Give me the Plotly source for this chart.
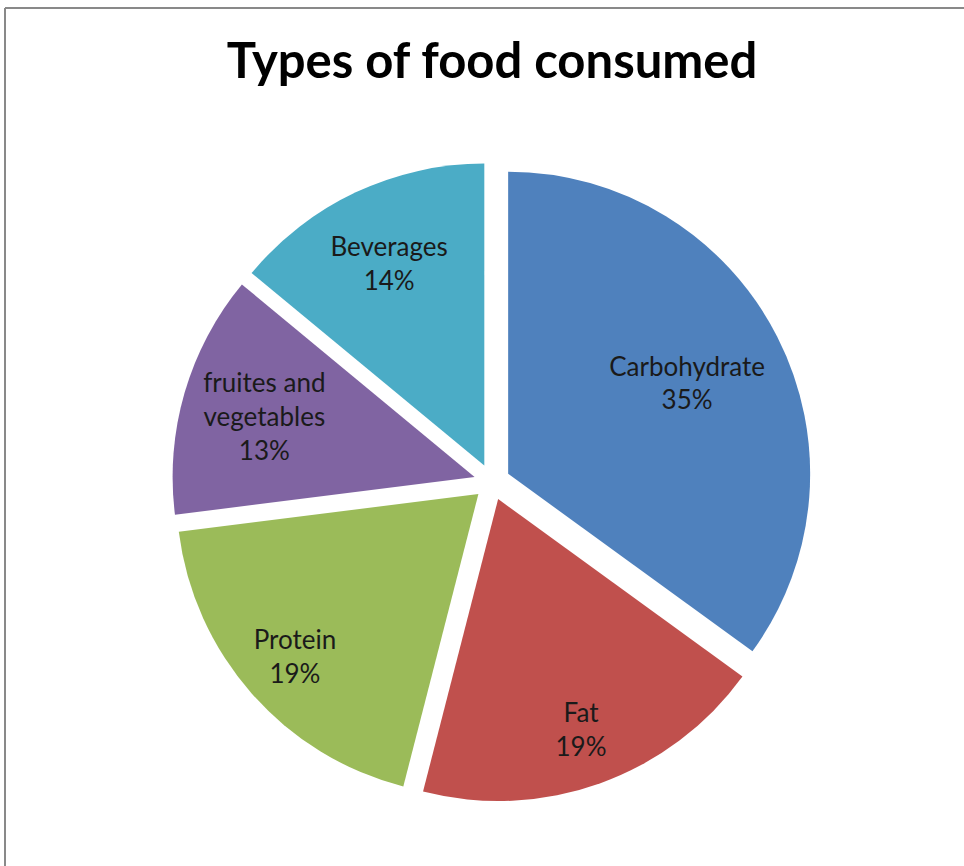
import plotly.graph_objects as go

# Data
categories = ["Carbohydrate", "Fat", "Protein", "fruites and<br>vegetables", "Beverages"]
values = [35, 19, 19, 13, 14]
title_text = "Types of food consumed"

# Styles
colors = ["#4F81BD", "#C0504D", "#9BBB59", "#8064A2", "#4BACC6"]
# inner ring used only by the (transparent) label layer of each slice:
# it moves plotly's own inside-text anchor outward, like the Excel original
label_hole = [0.33, 0.62, 0.62, 0.45, 0.48]

W, H = 964, 866
cx, cy = 492, 482          # pie centre in pixels
r_pix = 302                # pie radius in pixels
pull = 0.06
half = r_pix * (1 + pull)
domain = dict(
    x=[(cx - half) / W, (cx + half) / W],
    y=[1 - (cy + half) / H, 1 - (cy - half) / H],
)
common = dict(
    labels=categories,
    values=values,
    sort=False,
    direction="clockwise",
    rotation=0,
    pull=[pull] * len(values),
    showlegend=False,
    domain=domain,
)

fig = go.Figure()
# the visible slices
fig.add_trace(go.Pie(
    **common,
    marker=dict(colors=colors, line=dict(width=0)),
    textinfo="none",
    hoverinfo="label+percent",
))
# label layers (transparent slices, text only)
for h in sorted(set(label_hole)):
    tmpl = ["%{label}<br>%{percent}" if lh == h else "" for lh in label_hole]
    fig.add_trace(go.Pie(
        **common,
        hole=h,
        marker=dict(colors=["rgba(0,0,0,0)"] * len(values), line=dict(width=0)),
        texttemplate=tmpl,
        textposition="inside",
        insidetextorientation="horizontal",
        textfont=dict(family="Lato", size=26, color="#1a1a1a"),
        hoverinfo="skip",
    ))

fig.update_layout(
    width=W,
    height=H,
    margin=dict(l=0, r=0, t=0, b=0),
    paper_bgcolor="white",
    plot_bgcolor="white",
    title=dict(
        text="<b>" + title_text + "</b>",
        x=492 / W,
        xanchor="center",
        y=1 - 61 / H,
        yanchor="middle",
        yref="container",
        font=dict(family="Lato", size=49, color="#000000"),
    ),
    shapes=[
        dict(type="line", xref="paper", yref="paper",
             x0=5 / W, x1=1.01, y0=1 - 8 / H, y1=1 - 8 / H,
             line=dict(color="#898989", width=2)),
        dict(type="line", xref="paper", yref="paper",
             x0=5 / W, x1=5 / W, y0=1 - 8 / H, y1=-0.01,
             line=dict(color="#898989", width=2)),
    ],
)

fig.write_html(
    "out.html",
    config={"displayModeBar": False},
    post_script="document.body.style.margin='0';",
)
